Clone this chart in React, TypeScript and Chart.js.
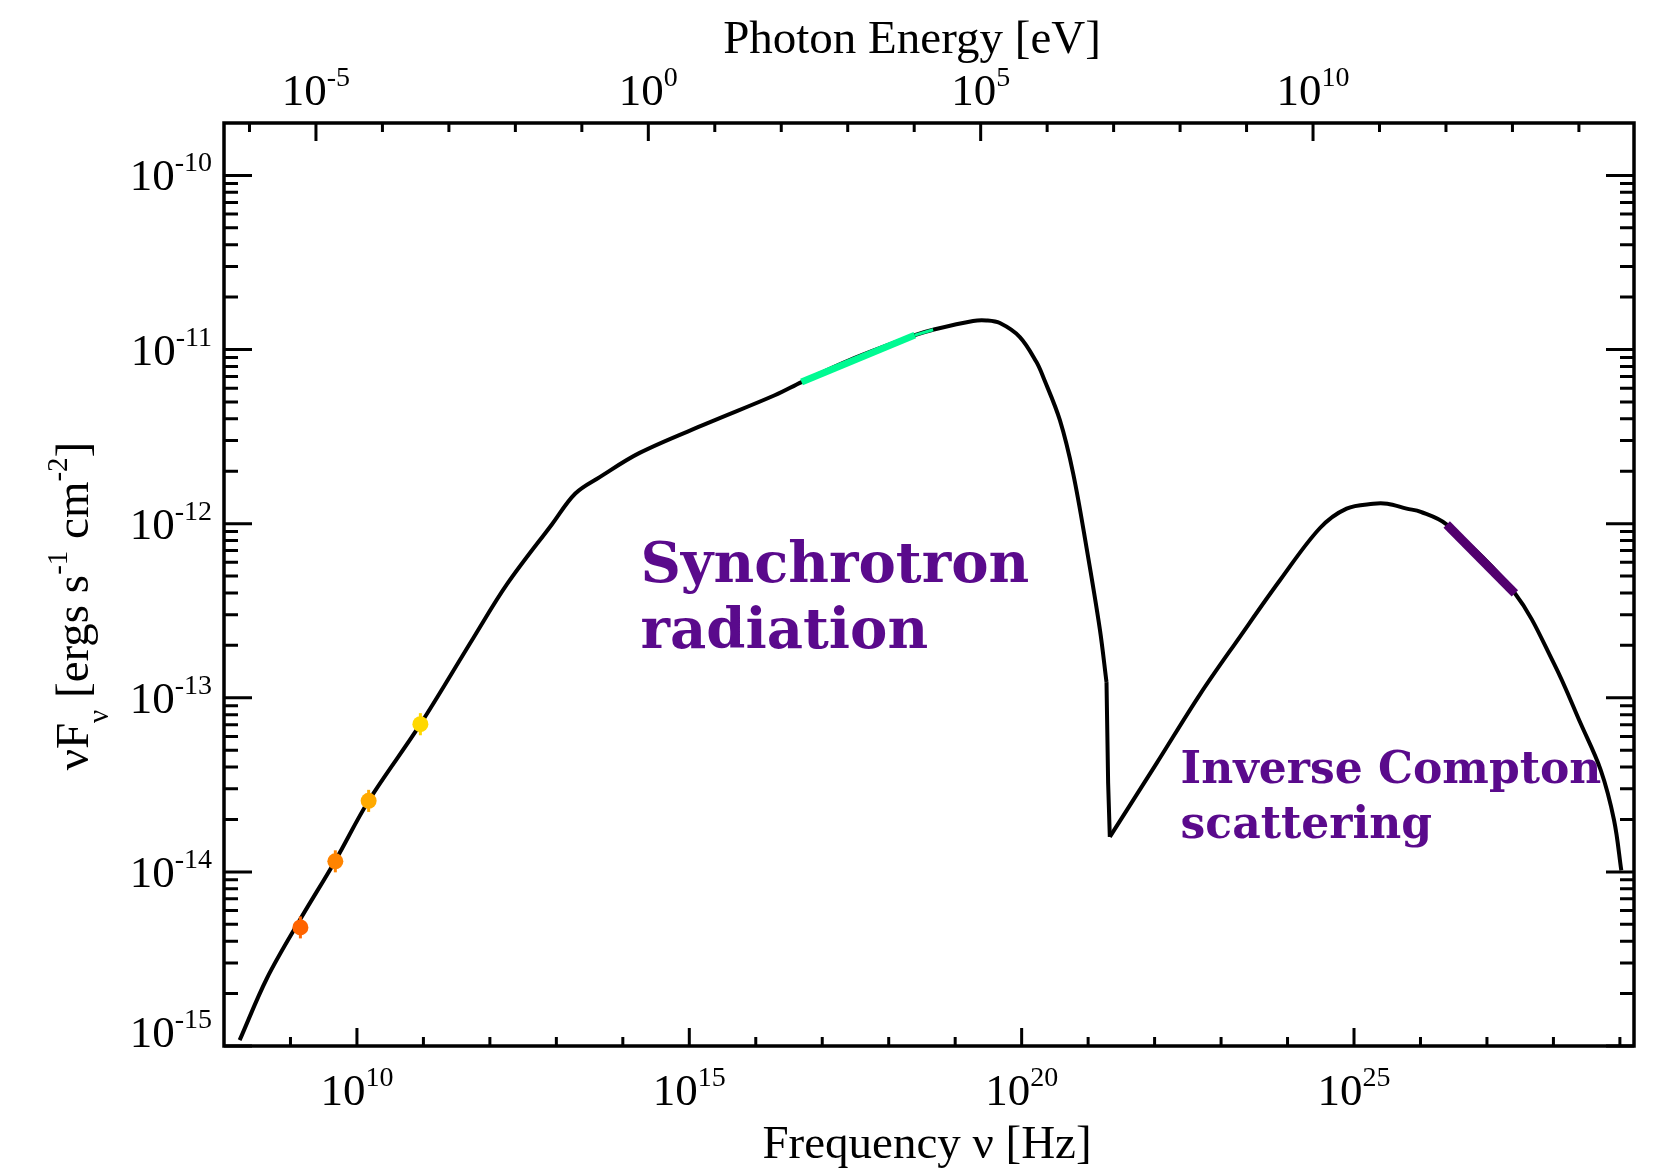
import React, { useEffect, useRef } from "react";
import { Chart, registerables } from "chart.js";

Chart.register(...registerables);

// ---------- data ----------
const H_EV = 4.135667e-15; // eV s
const X_MIN = 1e8;
const X_MAX = 1.63e29;
const Y_MIN = 1e-15;
const Y_MAX = 2.0e-10;

// synchrotron model curve
const syncFreq = [
  1.72e8, 4.43e8, 1.41e9, 4.73e9, 1.5e10, 9.0e10, 5.7e11, 1.81e12, 8.61e12, 1.93e13,
  4.49e13, 1.79e14, 1.81e15, 1.93e16, 4.88e16, 2.58e17, 2.47e18, 4.66e18, 1.86e19,
  2.96e19, 4.7e19, 9.4e19, 1.67e20, 2.11e20, 3.76e20, 5.96e20, 9.46e20, 1.5e21, 1.89e21,
];
const syncFlux = [
  1.08e-15, 2.45e-15, 5.36e-15, 1.16e-14, 2.56e-14, 7.05e-14, 2.22e-13, 4.49e-13, 9.93e-13,
  1.49e-12, 1.85e-12, 2.55e-12, 3.75e-12, 5.46e-12, 6.5e-12, 8.71e-12, 1.21e-11, 1.3e-11,
  1.46e-11, 1.47e-11, 1.42e-11, 1.18e-11, 8.47e-12, 6.95e-12, 3.93e-12, 1.94e-12, 7.29e-13,
  2.48e-13, 1.23e-13,
];
// steep cut-off
const dropFreq = [1.89e21, 2.0e21, 2.12e21];
const dropFlux = [1.23e-13, 3.24e-14, 1.59e-14];
// inverse Compton model curve
const icFreq = [
  2.12e21, 1.07e22, 4.85e22, 1.92e23, 7.69e23, 3.08e24, 7.74e24, 1.95e25, 3.17e25, 6.19e25,
  1.01e26, 2.48e26, 2.63e27, 1.02e28, 2.57e28, 5.15e28, 8.17e28, 1.05e29,
];
const icFlux = [
  1.59e-14, 4.2e-14, 1.05e-13, 2.24e-13, 4.73e-13, 9.44e-13, 1.22e-12, 1.3e-12, 1.3e-12,
  1.22e-12, 1.17e-12, 9.89e-13, 3.98e-13, 1.57e-13, 7.11e-14, 3.84e-14, 1.98e-14, 1.02e-14,
];
// radio measurements
const radioFreq = [1.41e9, 4.73e9, 1.5e10, 9.0e10];
const radioFlux = [4.8e-15, 1.15e-14, 2.56e-14, 7.05e-14];
const radioErrLo = [4.15e-15, 9.94e-15, 2.21e-14, 6.09e-14];
const radioErrHi = [5.55e-15, 1.33e-14, 2.96e-14, 8.16e-14];
const radioColors = ["#ff6400", "#ff8400", "#ffaa00", "#ffd800"];
// X-ray spectrum
const xrayFreq = [4.88e16, 2.47e18];
const xrayFlux = [6.5e-12, 1.21e-11];
const xrayTailFreq = [2.47e18, 4.66e18];
const xrayTailFlux = [1.21e-11, 1.3e-11];
// gamma-ray spectrum
const gammaFreq = [2.48e26, 2.63e27];
const gammaFlux = [9.89e-13, 3.98e-13];

// tick labels (exponents)
const yLabelExps = [-15, -14, -13, -12, -11, -10];
const xLabelExps = [10, 15, 20, 25];
const eLabelExps = [-5, 0, 5, 10];

// annotations
const annoLines = [
  ["Synchrotron", "radiation"],
  ["Inverse Compton", "scattering"],
];
const annoFreq = [1.84e14, 2.46e22];
const annoFlux = [
  [4.62e-13, 1.92e-13],
  [3.22e-14, 1.56e-14],
];

// ---------- styling ----------
const SERIF = '"Liberation Serif", "Times New Roman", serif';
const MAIN_PX = 45;
const SUP_PX = 28;
const SUP_RAISE = 19;
const TEXT_PURPLE = "#5a0a8c";

const pts = (xs: number[], ys: number[]) => xs.map((x, i) => ({ x, y: ys[i] }));

function drawPow(ctx: CanvasRenderingContext2D, x: number, baseline: number, exp: number, align: "right" | "center") {
  const main = "10";
  const sup = String(exp);
  ctx.font = `${MAIN_PX}px ${SERIF}`;
  const wm = ctx.measureText(main).width;
  ctx.font = `${SUP_PX}px ${SERIF}`;
  const ws = ctx.measureText(sup).width;
  const total = wm + ws;
  const x0 = align === "right" ? x - total : x - total / 2;
  ctx.textAlign = "left";
  ctx.textBaseline = "alphabetic";
  ctx.font = `${MAIN_PX}px ${SERIF}`;
  ctx.fillText(main, x0, baseline);
  ctx.font = `${SUP_PX}px ${SERIF}`;
  ctx.fillText(sup, x0 + wm, baseline - SUP_RAISE);
}

const annotationPlugin = {
  id: "annotations",
  beforeDatasetsDraw(chart: any) {
    const { ctx } = chart;
    const xs = chart.scales.x;
    const ys = chart.scales.y;
    ctx.save();
    ctx.fillStyle = TEXT_PURPLE;
    ctx.textAlign = "left";
    ctx.textBaseline = "alphabetic";
    const sizes = [56, 44];
    annoLines.forEach((lines, i) => {
      ctx.font = `bold ${sizes[i]}px "DejaVu Serif", serif`;
      lines.forEach((t, j) => {
        ctx.fillText(t, xs.getPixelForValue(annoFreq[i]), ys.getPixelForValue(annoFlux[i][j]));
      });
    });
    ctx.restore();
  },
};

const axesPlugin = {
  id: "idlAxes",
  afterDatasetsDraw(chart: any) {
    const { ctx, chartArea } = chart;
    const { left, right, top, bottom } = chartArea;
    const xs = chart.scales.x;
    const x2 = chart.scales.x2;
    const ys = chart.scales.y;
    ctx.save();
    ctx.strokeStyle = "#000";
    ctx.fillStyle = "#000";
    ctx.lineCap = "butt";

    // ticks
    ctx.lineWidth = 3;
    ctx.beginPath();
    for (let e = -16; e <= -9; e++) {
      for (let m = 1; m <= 9; m++) {
        const v = m * Math.pow(10, e);
        if (v < Y_MIN * 0.999 || v > Y_MAX * 0.995) continue;
        const y = ys.getPixelForValue(v);
        const len = m === 1 ? 28 : 14;
        ctx.moveTo(left, y);
        ctx.lineTo(left + len, y);
        ctx.moveTo(right, y);
        ctx.lineTo(right - len, y);
      }
    }
    for (let e = 8; e <= 29; e++) {
      const v = Math.pow(10, e);
      if (v < X_MIN * 1.01 || v > X_MAX) continue;
      const x = xs.getPixelForValue(v);
      const len = e % 5 === 0 ? 18 : 9;
      ctx.moveTo(x, bottom);
      ctx.lineTo(x, bottom - len);
    }
    for (let e = -7; e <= 15; e++) {
      const v = Math.pow(10, e);
      if (v < X_MIN * H_EV * 1.01 || v > X_MAX * H_EV) continue;
      const x = x2.getPixelForValue(v);
      const len = e % 5 === 0 ? 18 : 9;
      ctx.moveTo(x, top);
      ctx.lineTo(x, top + len);
    }
    ctx.stroke();

    // frame
    ctx.lineWidth = 3.5;
    ctx.strokeRect(left, top, right - left, bottom - top);

    // tick labels
    yLabelExps.forEach((e) => {
      const y = ys.getPixelForValue(Math.pow(10, e));
      drawPow(ctx, left - 12, Math.min(y + 15, bottom + 1), e, "right");
    });
    xLabelExps.forEach((e) => {
      drawPow(ctx, xs.getPixelForValue(Math.pow(10, e)), bottom + 59, e, "center");
    });
    eLabelExps.forEach((e) => {
      drawPow(ctx, x2.getPixelForValue(Math.pow(10, e)), top - 18, e, "center");
    });

    // axis titles
    ctx.font = `47px ${SERIF}`;
    ctx.textAlign = "center";
    ctx.textBaseline = "alphabetic";
    ctx.fillText("Photon Energy [eV]", 912, 53);
    ctx.fillText("Frequency \u03bd [Hz]", 927, 1158);

    // y title with sub/superscripts
    const segs: [string, number, number][] = [
      ["\u03bdF", 47, 0],
      ["\u03bd", 29, 20],
      [" [ergs s", 47, 0],
      ["-1", 29, -21],
      [" cm", 47, 0],
      ["-2", 29, -21],
      ["]", 47, 0],
    ];
    let total = 0;
    const widths = segs.map(([t, f]) => {
      ctx.font = `${f}px ${SERIF}`;
      const w = ctx.measureText(t).width;
      total += w;
      return w;
    });
    ctx.translate(88, 606);
    ctx.rotate(-Math.PI / 2);
    ctx.textAlign = "left";
    let cx = -total / 2;
    segs.forEach(([t, f, dy], i) => {
      ctx.font = `${f}px ${SERIF}`;
      ctx.fillText(t, cx, dy);
      cx += widths[i];
    });
    ctx.restore();
  },
};

export default function App() {
  const canvasRef = useRef<HTMLCanvasElement | null>(null);

  useEffect(() => {
    if (!canvasRef.current) return;
    const black = { borderColor: "#000", borderWidth: 4, pointRadius: 0, fill: false, order: 10 };
    const errorBars = radioFreq.map((f, i) => ({
      type: "line" as const,
      data: [
        { x: f, y: radioErrLo[i] },
        { x: f, y: radioErrHi[i] },
      ],
      borderColor: radioColors[i],
      borderWidth: 3,
      pointRadius: 0,
      order: 3,
    }));
    const chart = new Chart(canvasRef.current, {
      type: "line",
      data: {
        datasets: [
          { ...black, data: pts(syncFreq, syncFlux), tension: 0.35 },
          { ...black, data: pts(dropFreq, dropFlux), tension: 0 },
          { ...black, data: pts(icFreq, icFlux), tension: 0.35 },
          {
            data: pts(xrayFreq, xrayFlux),
            borderColor: "#00fa92",
            borderWidth: 7,
            borderCapStyle: "butt",
            pointRadius: 0,
            order: 2,
          },
          {
            data: pts(xrayTailFreq, xrayTailFlux),
            borderColor: "#00fa92",
            borderWidth: 3,
            pointRadius: 0,
            order: 2,
          },
          {
            data: pts(gammaFreq, gammaFlux),
            borderColor: "#52006e",
            borderWidth: 9,
            borderCapStyle: "butt",
            pointRadius: 0,
            order: 2,
          },
          ...errorBars,
          {
            data: pts(radioFreq, radioFlux),
            showLine: false,
            pointRadius: 8,
            pointBorderWidth: 0,
            pointBackgroundColor: radioColors,
            pointBorderColor: radioColors,
            order: 1,
          },
        ] as any,
      },
      options: {
        responsive: false,
        animation: false,
        events: [],
        layout: { padding: { left: 224, right: 22, top: 123, bottom: 122 } },
        plugins: { legend: { display: false }, tooltip: { enabled: false }, title: { display: false } },
        scales: {
          x: { type: "logarithmic", min: X_MIN, max: X_MAX, display: false },
          x2: { type: "logarithmic", position: "top", min: X_MIN * H_EV, max: X_MAX * H_EV, display: false },
          y: { type: "logarithmic", min: Y_MIN, max: Y_MAX, display: false },
        },
      } as any,
      plugins: [annotationPlugin, axesPlugin],
    });
    return () => chart.destroy();
  }, []);

  return (
    <div style={{ position: "absolute", left: 0, top: 0, width: 1656, height: 1168, background: "#fff" }}>
      <canvas ref={canvasRef} width={1656} height={1168} style={{ display: "block" }} />
    </div>
  );
}
